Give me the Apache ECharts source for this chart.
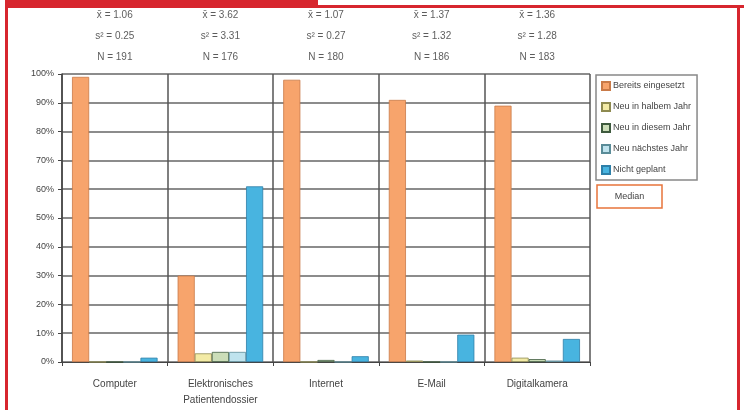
<!DOCTYPE html>
<html>
<head>
<meta charset="utf-8">
<script src="https://cdn.jsdelivr.net/npm/echarts@6/dist/echarts.min.js"></script>
<style>
html,body{margin:0;padding:0;background:#fff;}
#chart{width:744px;height:410px;}
</style>
</head>
<body>
<div id="chart"></div>
<script>
var categories = ['Computer', 'Elektronisches\nPatientendossier', 'Internet', 'E-Mail', 'Digitalkamera'];
var seriesNames = ['Bereits eingesetzt', 'Neu in halbem Jahr', 'Neu in diesem Jahr', 'Neu nächstes Jahr', 'Nicht geplant'];
var bereitsEingesetzt = [99, 30, 98, 91, 89];
var neuHalbemJahr = [0, 3, 0, 0.5, 1.5];
var neuDiesemJahr = [0, 3.5, 0.7, 0, 1];
var neuNaechstesJahr = [0, 3.5, 0, 0, 0.5];
var nichtGeplant = [1.5, 61, 2, 9.5, 8];
var meanValues = ['1.06', '3.62', '1.07', '1.37', '1.36'];
var varianceValues = ['0.25', '3.31', '0.27', '1.32', '1.28'];
var nValues = [191, 176, 180, 186, 183];
var yTicks = [0, 10, 20, 30, 40, 50, 60, 70, 80, 90, 100];

var colors = ['#F7A46C', '#F3EBA6', '#CBDDB8', '#BFE3EE', '#48B4E0'];
var borders = ['#C97A48', '#8E8A50', '#3E5A3E', '#5A8C98', '#2D7FA8'];
var dataSets = [bereitsEingesetzt, neuHalbemJahr, neuDiesemJahr, neuNaechstesJahr, nichtGeplant];

var series = seriesNames.map(function (name, i) {
  return {
    name: name,
    type: 'bar',
    data: dataSets[i],
    barGap: '0%',
    barCategoryGap: '19%',
    itemStyle: { color: colors[i], borderColor: borders[i], borderWidth: 0.8 },
    emphasis: { disabled: true }
  };
});

series.push({
  type: 'scatter',
  symbolSize: 0,
  silent: true,
  data: categories.map(function (c, i) { return [i, 100]; }),
  label: {
    show: true,
    position: 'top',
    distance: 6,
    color: '#333',
    fontFamily: 'Liberation Sans',
    fontSize: 10,
    lineHeight: 21,
    align: 'center',
    formatter: function (p) {
      var i = p.dataIndex;
      return 'x\u0304 = ' + meanValues[i] + '\ns\u00B2 = ' + varianceValues[i] + '\nN = ' + nValues[i];
    }
  }
});

var chart = echarts.init(document.getElementById('chart'));
chart.setOption({
  animation: false,
  backgroundColor: '#fff',
  grid: { left: 62, right: 154, top: 74, bottom: 48 },
  legend: {
    data: seriesNames,
    orient: 'vertical',
    left: 596,
    top: 75,
    width: 132,
    padding: [6, 6, 5, 5],
    itemWidth: 8,
    itemHeight: 8,
    itemGap: 11,
    icon: 'rect',
    borderColor: '#888',
    borderWidth: 1.5,
    textStyle: { fontFamily: 'Liberation Sans', fontSize: 9, color: '#444', padding: [0, 0, 0, -2] },
    selectedMode: false
  },
  xAxis: {
    type: 'category',
    data: categories,
    axisLine: { lineStyle: { color: '#444', width: 1 } },
    axisTick: { show: true, length: 4, lineStyle: { color: '#444' } },
    splitLine: { show: true, lineStyle: { color: '#555', width: 1.5 } },
    axisLabel: { interval: 0, fontFamily: 'Liberation Sans', fontSize: 10, color: '#444', margin: 14, lineHeight: 16 }
  },
  yAxis: {
    type: 'value',
    min: 0,
    max: 100,
    interval: 10,
    axisLine: { show: true, lineStyle: { color: '#444', width: 1.5 } },
    axisTick: { show: true, length: 4, lineStyle: { color: '#444' } },
    splitLine: { show: true, lineStyle: { color: '#666', width: 1.5 } },
    axisLabel: { formatter: '{value}%', fontFamily: 'Liberation Sans', fontSize: 9, color: '#444', margin: 8 }
  },
  series: series,
  graphic: [
    { type: 'rect', shape: { x: 0, y: 0, width: 318, height: 8 }, style: { fill: '#D7262E' } },
    { type: 'rect', shape: { x: 0, y: 5, width: 744, height: 3 }, style: { fill: '#D7262E' } },
    { type: 'rect', shape: { x: 5, y: 5, width: 3, height: 405 }, style: { fill: '#D7262E' } },
    { type: 'rect', shape: { x: 737, y: 5, width: 3, height: 405 }, style: { fill: '#D7262E' } },
    { type: 'rect', shape: { x: 0, y: 0, width: 5, height: 410 }, style: { fill: '#fff' } },
    { type: 'rect', shape: { x: 597, y: 185, width: 65, height: 23 }, style: { fill: '#fff', stroke: '#E8743B', lineWidth: 1.5 } },
    { type: 'text', x: 629.5, y: 196.5, style: { text: 'Median', fontFamily: 'Liberation Sans', fontSize: 9, fill: '#444', align: 'center', verticalAlign: 'middle' } }
  ]
});
</script>
</body>
</html>
